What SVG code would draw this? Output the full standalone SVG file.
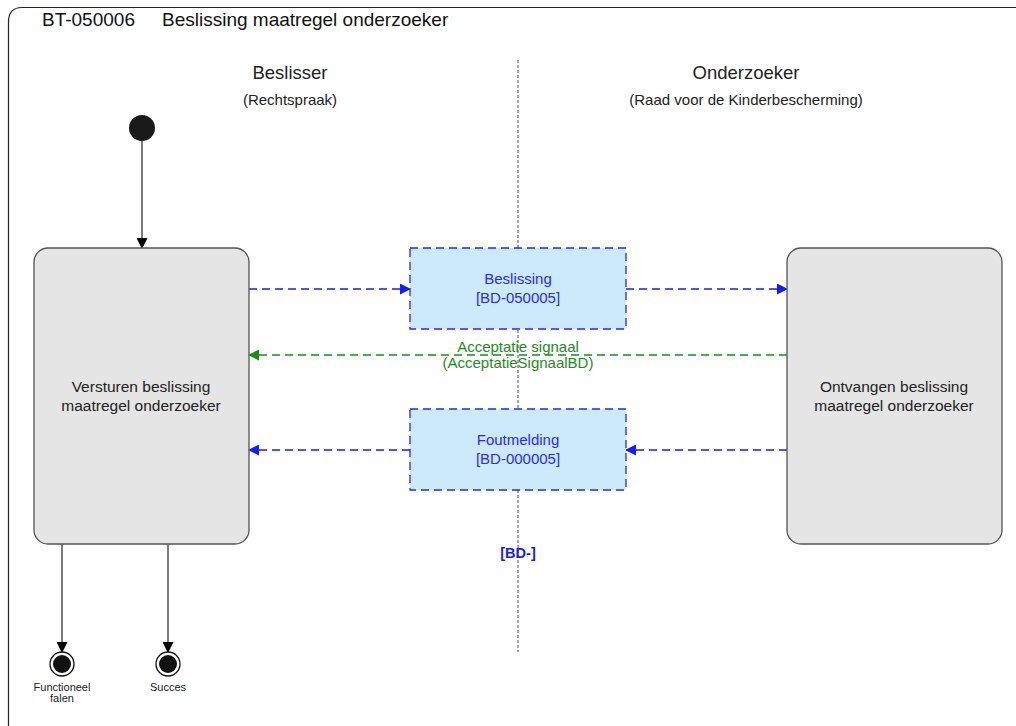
<svg xmlns="http://www.w3.org/2000/svg" width="1016" height="726" viewBox="0 0 1016 726">
<style>
text{font-family:"Liberation Sans",Arial,sans-serif;}
.state{fill:#e5e5e5;stroke:#555;stroke-width:1.3;}
.msg{fill:#cdeafc;stroke:#2727f0;stroke-width:1.3;stroke-dasharray:8,5;}
.st{font-size:15.5px;fill:#222;text-anchor:middle;}
.mt{font-size:15px;fill:#2a2af0;text-anchor:middle;}
.blue{stroke:#1a1af5;stroke-width:1.3;stroke-dasharray:8,5;fill:none;}
.green{stroke:#1e8a1e;stroke-width:1.3;stroke-dasharray:8,5;fill:none;}
.ctl{stroke:#222;stroke-width:1.2;fill:none;}
.lane{font-size:18.5px;fill:#222;text-anchor:middle;}
.sub{font-size:15px;fill:#222;text-anchor:middle;}
.end{font-size:11px;fill:#222;text-anchor:middle;}
</style>
<defs>
<marker id="ab" markerWidth="11" markerHeight="11" refX="10" refY="5.5" orient="auto" markerUnits="userSpaceOnUse"><path d="M0,0 L11,5.5 L0,11 z" fill="#1a1af5"/></marker>
<marker id="ag" markerWidth="11" markerHeight="11" refX="10" refY="5.5" orient="auto" markerUnits="userSpaceOnUse"><path d="M0,0 L11,5.5 L0,11 z" fill="#1e8a1e"/></marker>
<marker id="ak" markerWidth="11" markerHeight="11" refX="10" refY="5.5" orient="auto" markerUnits="userSpaceOnUse"><path d="M0,0 L11,5.5 L0,11 z" fill="#000"/></marker>
</defs>
<rect width="1016" height="726" fill="#fff"/>
<g id="frame">
<path d="M8.5,726 L8.5,22 Q8.5,7.5 22,7.5 L1016,7.5" fill="none" stroke="#222" stroke-width="1.2"/>
<text x="42" y="26" font-size="19" fill="#111">BT-050006</text>
<text x="162" y="26" font-size="19" fill="#111">Beslissing maatregel onderzoeker</text>
</g>
<g id="lanes">
<line x1="518" y1="60" x2="518" y2="652" stroke="#777" stroke-width="1.3" stroke-dasharray="3,2"/>
<text class="lane" x="290" y="79">Beslisser</text>
<text class="sub" x="290" y="105">(Rechtspraak)</text>
<text class="lane" x="746" y="79">Onderzoeker</text>
<text class="sub" x="746" y="105">(Raad voor de Kinderbescherming)</text>
</g>
<g id="connectors">
<line class="ctl" x1="142" y1="141" x2="142" y2="248" marker-end="url(#ak)"/>
<line class="ctl" x1="62" y1="544" x2="62" y2="652" marker-end="url(#ak)"/>
<line class="ctl" x1="168" y1="544" x2="168" y2="652" marker-end="url(#ak)"/>
<line class="blue" x1="249" y1="289" x2="410" y2="289" marker-end="url(#ab)"/>
<line class="blue" x1="626" y1="289" x2="787" y2="289" marker-end="url(#ab)"/>
<line class="green" x1="787" y1="355" x2="249" y2="355" marker-end="url(#ag)"/>
<line class="blue" x1="787" y1="450" x2="626" y2="450" marker-end="url(#ab)"/>
<line class="blue" x1="410" y1="450" x2="249" y2="450" marker-end="url(#ab)"/>
<text x="518" y="352" font-size="15" fill="#1e8a1e" text-anchor="middle">Acceptatie signaal</text>
<text x="518" y="368" font-size="15" fill="#1e8a1e" text-anchor="middle">(AcceptatieSignaalBD)</text>
<text x="518" y="558" font-size="14.5" font-weight="bold" fill="#1a1af5" text-anchor="middle">[BD-]</text>
</g>
<g id="start">
<circle cx="142" cy="128" r="13" fill="#1a1a1a"/>
</g>
<g id="versturen">
<rect class="state" x="34" y="248" width="215" height="296" rx="14"/>
<text class="st" x="141" y="392">Versturen beslissing</text>
<text class="st" x="141" y="411">maatregel onderzoeker</text>
</g>
<g id="ontvangen">
<rect class="state" x="787" y="248" width="215" height="296" rx="14"/>
<text class="st" x="894" y="392">Ontvangen beslissing</text>
<text class="st" x="894" y="411">maatregel onderzoeker</text>
</g>
<g id="beslissing">
<rect class="msg" x="410" y="248" width="216" height="81"/>
<text class="mt" x="518" y="284">Beslissing</text>
<text class="mt" x="518" y="303">[BD-050005]</text>
</g>
<g id="foutmelding">
<rect class="msg" x="410" y="409" width="216" height="81"/>
<text class="mt" x="518" y="445">Foutmelding</text>
<text class="mt" x="518" y="464">[BD-000005]</text>
</g>
<g id="end-falen">
<circle cx="62" cy="664" r="12" fill="#fff" stroke="#111" stroke-width="1.3"/>
<circle cx="62" cy="664" r="9" fill="#111"/>
<text class="end" x="62" y="691">Functioneel</text>
<text class="end" x="62" y="702">falen</text>
</g>
<g id="end-succes">
<circle cx="168" cy="664" r="12" fill="#fff" stroke="#111" stroke-width="1.3"/>
<circle cx="168" cy="664" r="9" fill="#111"/>
<text class="end" x="168" y="691">Succes</text>
</g>
</svg>
